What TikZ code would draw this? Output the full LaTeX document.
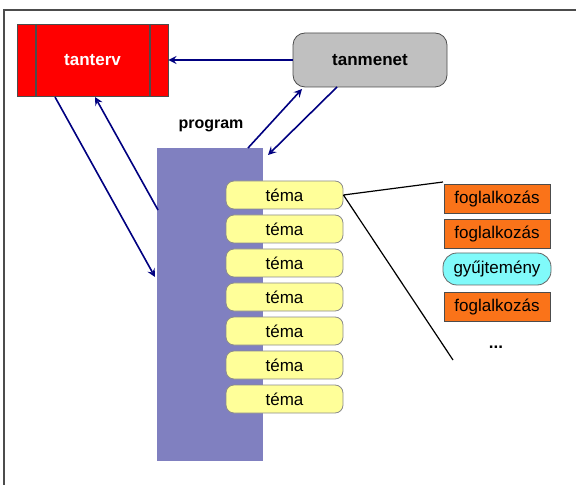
\documentclass[tikz,border=0pt]{standalone}
\usepackage{fontspec}
\setmainfont{Liberation Sans}
\usepackage{tikz}

\definecolor{tantervred}{RGB}{255,0,0}
\definecolor{menetgray}{RGB}{192,192,192}
\definecolor{progpurple}{RGB}{128,128,192}
\definecolor{temayellow}{RGB}{255,255,153}
\definecolor{foglorange}{RGB}{250,115,25}
\definecolor{gyujtcyan}{RGB}{128,250,250}
\definecolor{arrownavy}{RGB}{0,0,128}

\tikzset{
  tema/.style = {draw=black!45, fill=temayellow, rounded corners=4pt,
    minimum width=58.5pt, minimum height=14pt, inner sep=0pt, font=\fontsize{8.5}{10}\selectfont},
  fogl/.style = {draw=black!70, fill=foglorange, minimum width=53pt, minimum height=14.5pt,
    inner sep=0pt, font=\fontsize{8.5}{10}\selectfont},
  nyil/.style = {draw=arrownavy, line width=0.8pt, -stealth}
}

\begin{document}
\begin{tikzpicture}[x=0.5pt,y=-0.5pt]
        \useasboundingbox (0,0) rectangle (576,485);
        \draw[black!70, line width=1pt] (4,485) -- (4,10) -- (576,10);

        % tanterv with the two inner bars
        \node[draw=black!70, fill=tantervred, minimum width=75.5pt, minimum height=36pt, inner sep=0pt,
              text=white, font=\bfseries\fontsize{8.5}{10}\selectfont] (tanterv) at (92.5,60) {tanterv};
        \draw[black!70, line width=0.6pt] (36,24) -- (36,96) (150,24) -- (150,96);

        \node[draw=black!70, fill=menetgray, rounded corners=6pt, minimum width=77pt, minimum height=27pt,
              inner sep=0pt, font=\bfseries\fontsize{8.5}{10}\selectfont] (tanmenet) at (370,60) {tanmenet};

        % program column
        \fill[progpurple] (157,148) rectangle (263,461);
        \node[font=\bfseries\fontsize{8}{10}\selectfont] (program) at (211,126) {program};

        \node[tema] (t1) at (284.5,195) {téma};
        \node[tema] (t2) at (284.5,229) {téma};
        \node[tema] (t3) at (284.5,263) {téma};
        \node[tema] (t4) at (284.5,297) {téma};
        \node[tema] (t5) at (284.5,331) {téma};
        \node[tema] (t6) at (284.5,365) {téma};
        \node[tema] (t7) at (284.5,399) {téma};

        \node[fogl] (f1) at (497,199) {foglalkozás};
        \node[fogl] (f2) at (497,234) {foglalkozás};
        \node[draw=black!60, fill=gyujtcyan, rounded corners=7pt, minimum width=54pt, minimum height=16pt,
              inner sep=0pt, font=\fontsize{8.5}{10}\selectfont] (gy) at (497,269) {gyűjtemény};
        \node[fogl] (f3) at (497,307) {foglalkozás};
        \node[font=\bfseries\fontsize{8.5}{10}\selectfont] (dots) at (496,347) {...};

        % arrow end points on the boxes
        \coordinate (a1) at (55,97);
        \coordinate (a2) at (155,277);
        \coordinate (a3) at (158,210);
        \coordinate (a4) at (95,97);
        \coordinate (a5) at (248,148);
        \coordinate (a6) at (302,89);
        \coordinate (a7) at (337,87);
        \coordinate (a8) at (268,155);
        \coordinate (k1) at (443,182);
        \coordinate (k2) at (453,360);

        \draw[nyil] (tanmenet.west) -- (tanterv.east);
        \draw[nyil] (a1) -- (a2);
        \draw[nyil] (a3) -- (a4);
        \draw[nyil] (a5) -- (a6);
        \draw[nyil] (a7) -- (a8);

        \draw[line width=0.6pt] (t1.east) -- (k1) (t1.east) -- (k2);
    \end{tikzpicture}
\end{document}
